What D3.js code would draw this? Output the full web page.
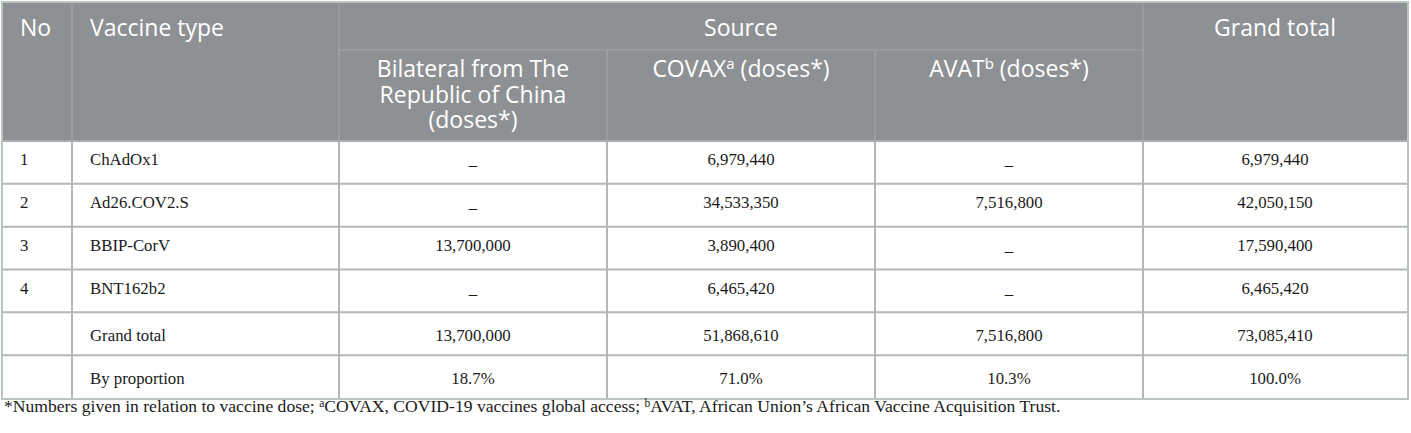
<!DOCTYPE html>
<html>
<head>
<meta charset="utf-8">
<script src="https://cdn.jsdelivr.net/npm/d3@7"></script>
<style>
  body { margin: 0; background: #ffffff; }
  svg { display: block; }
</style>
</head>
<body>
<div id="wrap"></div>
<script>
// table data
var nos = ["1", "2", "3", "4", "", ""];
var vaccines = ["ChAdOx1", "Ad26.COV2.S", "BBIP-CorV", "BNT162b2", "Grand total", "By proportion"];
var bilateral = [null, null, 13700000, null, 13700000];
var covax = [6979440, 34533350, 3890400, 6465420, 51868610];
var avat = [null, 7516800, null, null, 7516800];
var grandTotal = [6979440, 42050150, 17590400, 6465420, 73085410];
var proportion = [18.7, 71.0, 10.3, 100.0];

var W = 1411, H = 433;
var headFill = "#8e9194";
var gridColor = "#b4b6b7";
var outerColor = "#b9c6bf";
var serif = "'Liberation Serif', 'DejaVu Serif', serif";
var sans = "'Open Sans', 'Noto Sans', sans-serif";

var colEdges = [3, 72, 339, 607, 875, 1143, 1407];
var tableTop = 3, sourceLine = 50, headBottom = 141, tableBottom = 398;

var svg = d3.select('#wrap')
  .append('svg')
  .attr("width", W)
  .attr("height", H);

var y = d3.scaleBand()
  .domain(d3.range(vaccines.length))
  .range([headBottom, tableBottom])
  .paddingInner(0);

var fmt = d3.format(",");
var pct = function (v) { return d3.format(".1f")(v) + "%"; };
var cell = function (v) { return v == null ? "_" : fmt(v); };

// header background
svg.append("rect")
  .attr("x", colEdges[0]).attr("y", tableTop)
  .attr("width", colEdges[6] - colEdges[0])
  .attr("height", headBottom - tableTop)
  .attr("fill", headFill);

// header inner lines
var hl = svg.append("g").attr("stroke", "#a4a7a9").attr("stroke-width", 1.2);
[1, 2, 5].forEach(function (i) {
  hl.append("line").attr("x1", colEdges[i]).attr("x2", colEdges[i])
    .attr("y1", tableTop + 2).attr("y2", headBottom);
});
[3, 4].forEach(function (i) {
  hl.append("line").attr("x1", colEdges[i]).attr("x2", colEdges[i])
    .attr("y1", sourceLine).attr("y2", headBottom);
});
hl.append("line").attr("x1", colEdges[2]).attr("x2", colEdges[5])
  .attr("y1", sourceLine).attr("y2", sourceLine);

// body grid
var gl = svg.append("g").attr("stroke", gridColor).attr("stroke-width", 2);
d3.range(1, 6).forEach(function (i) {
  gl.append("line").attr("x1", colEdges[i]).attr("x2", colEdges[i])
    .attr("y1", headBottom).attr("y2", tableBottom);
});
d3.range(1, vaccines.length).forEach(function (r) {
  gl.append("line").attr("x1", colEdges[0]).attr("x2", colEdges[6])
    .attr("y1", y(r)).attr("y2", y(r));
});
gl.append("line").attr("x1", colEdges[0]).attr("x2", colEdges[6])
  .attr("y1", headBottom).attr("y2", headBottom).attr("stroke", "#a9abad");

// outer border
svg.append("rect")
  .attr("x", colEdges[0] - 1).attr("y", tableTop - 1)
  .attr("width", colEdges[6] - colEdges[0] + 2)
  .attr("height", tableBottom - tableTop + 2)
  .attr("fill", "none")
  .attr("stroke", outerColor)
  .attr("stroke-width", 2);

// header text
var ht = svg.append("g")
  .attr("fill", "#ffffff")
  .style("font-family", sans)
  .style("font-size", "23px");

function mid(i) { return (colEdges[i] + colEdges[i + 1]) / 2; }

ht.append("text").attr("x", 20).attr("y", 36).text("No");
ht.append("text").attr("x", 90).attr("y", 36).text("Vaccine type");
ht.append("text").attr("x", (colEdges[2] + colEdges[5]) / 2).attr("y", 36)
  .attr("text-anchor", "middle").text("Source");
ht.append("text").attr("x", mid(5)).attr("y", 36)
  .attr("text-anchor", "middle").text("Grand total");

var bl = ["Bilateral from The", "Republic of China", "(doses*)"];
bl.forEach(function (s, i) {
  ht.append("text").attr("x", mid(2)).attr("y", 77 + i * 25.5)
    .attr("text-anchor", "middle").text(s);
});

var cv = ht.append("text").attr("x", mid(3)).attr("y", 77).attr("text-anchor", "middle");
cv.append("tspan").text("COVAX");
cv.append("tspan").attr("dy", -8).style("font-size", "15px").text("a");
cv.append("tspan").attr("dy", 8).text(" (doses*)");

var av = ht.append("text").attr("x", mid(4)).attr("y", 77).attr("text-anchor", "middle");
av.append("tspan").text("AVAT");
av.append("tspan").attr("dy", -8).style("font-size", "15px").text("b");
av.append("tspan").attr("dy", 8).text(" (doses*)");

// body rows
var rows = svg.append("g")
  .attr("fill", "#1a1a1a")
  .style("font-family", serif)
  .style("font-size", "16.8px");

vaccines.forEach(function (v, r) {
  var cy = y(r) + y.bandwidth() / 2 + (r < 4 ? -2 : 2) + 5;
  var vals;
  if (r < 5) {
    vals = [cell(bilateral[r]), cell(covax[r]), cell(avat[r]), fmt(grandTotal[r])];
  } else {
    vals = proportion.map(pct);
  }
  rows.append("text").attr("x", 20).attr("y", cy).text(nos[r]);
  rows.append("text").attr("x", 90).attr("y", cy).text(v);
  vals.forEach(function (s, j) {
    rows.append("text").attr("x", mid(j + 2)).attr("y", cy)
      .attr("text-anchor", "middle").text(s);
  });
});

// footnote
var fn = svg.append("text")
  .attr("x", 4).attr("y", 412)
  .attr("fill", "#1a1a1a")
  .style("font-family", serif)
  .style("font-size", "17.6px");
fn.append("tspan").text("*Numbers given in relation to vaccine dose; ");
fn.append("tspan").attr("dy", -5).style("font-size", "11.5px").text("a");
fn.append("tspan").attr("dy", 5).text("COVAX, COVID-19 vaccines global access; ");
fn.append("tspan").attr("dy", -5).style("font-size", "11.5px").text("b");
fn.append("tspan").attr("dy", 5).text("AVAT, African Union\u2019s African Vaccine Acquisition Trust.");
</script>
</body>
</html>
